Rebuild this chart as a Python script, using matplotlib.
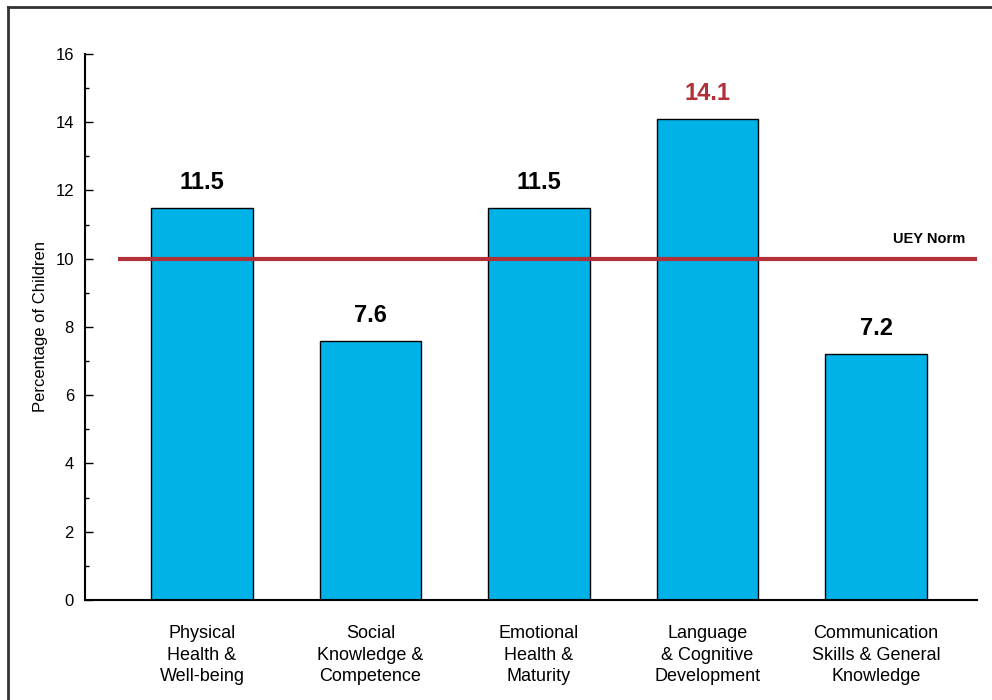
import matplotlib.pyplot as plt
from matplotlib.lines import Line2D
from matplotlib.ticker import MultipleLocator

plt.rcParams['font.family'] = ['Liberation Sans', 'DejaVu Sans']

categories = ['Physical\nHealth &\nWell-being',
              'Social\nKnowledge &\nCompetence',
              'Emotional\nHealth &\nMaturity',
              'Language\n& Cognitive\nDevelopment',
              'Communication\nSkills & General\nKnowledge']
values = [11.5, 7.6, 11.5, 14.1, 7.2]
label_colors = ['black', 'black', 'black', '#B0313A', 'black']
norm_value = 10

bar_color = '#00B2E8'
red = '#B0313A'

fig = plt.figure(figsize=(9.92, 7), dpi=100)
ax = fig.add_axes([0.0857, 0.1429, 0.985 - 0.0857, 0.78])

x = range(len(values))
ax.bar(x, values, width=0.6, color=bar_color, edgecolor='black', linewidth=1, zorder=2)

# value labels
for xi, v, c in zip(x, values, label_colors):
    ax.annotate(f'{v}', (xi, v), xytext=(0, 10), textcoords='offset points',
                ha='center', va='bottom', fontsize=17, fontweight='bold', color=c)

# UEY norm line
ax.hlines(norm_value, -0.5, 4.6, color=red, linewidth=3, zorder=3)
ax.annotate('UEY Norm', (4.53, norm_value), xytext=(0, 9), textcoords='offset points',
            ha='right', va='bottom', fontsize=10.5, fontweight='bold')

ax.set_xlim(-0.694, 4.6)
ax.set_ylim(0, 16)
ax.yaxis.set_major_locator(MultipleLocator(2))
ax.yaxis.set_minor_locator(MultipleLocator(1))
ax.tick_params(axis='y', which='both', direction='in', labelsize=12, length=6, width=1, pad=8)
ax.tick_params(axis='y', which='minor', length=3)
ax.set_xticks(list(x))
ax.set_xticklabels(categories, fontsize=13, linespacing=1.35)
ax.tick_params(axis='x', length=0, pad=18)
ax.set_ylabel('Percentage of Children', fontsize=12, labelpad=5)

for s in ['top', 'right']:
    ax.spines[s].set_visible(False)
for s in ['left', 'bottom']:
    ax.spines[s].set_linewidth(1.5)

# outer frame (only top and left visible in the crop)
fig.add_artist(Line2D([8 / 992, 1], [1 - 7 / 700, 1 - 7 / 700], color='#333333', linewidth=2))
fig.add_artist(Line2D([8 / 992, 8 / 992], [0, 1 - 7 / 700], color='#333333', linewidth=2))

plt.savefig('out.png', dpi=100)
